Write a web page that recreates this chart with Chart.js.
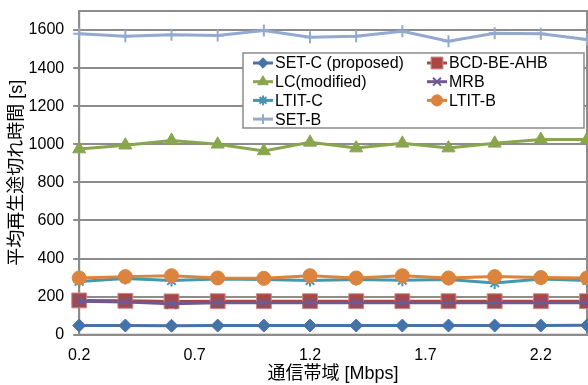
<!DOCTYPE html>
<html lang="ja">
<head>
<meta charset="utf-8">
<title>通信帯域と平均再生途切れ時間</title>
<script src="https://cdn.jsdelivr.net/npm/chart.js@4/dist/chart.umd.min.js"></script>
<style>
  html, body { margin: 0; padding: 0; background: #fff; }
  #wrap { width: 588px; height: 385px; }
</style>
</head>
<body>
<div id="wrap"><canvas id="playbackChart" width="588" height="385"></canvas></div>
<script>
// 帯域 [Mbps]
const bandwidth = [0.2, 0.4, 0.6, 0.8, 1.0, 1.2, 1.4, 1.6, 1.8, 2.0, 2.2, 2.4];
const xTickValues = [0.2, 0.7, 1.2, 1.7, 2.2];
const yTickValues = [0, 200, 400, 600, 800, 1000, 1200, 1400, 1600];

// 平均再生途切れ時間 [s]
const setC  = [48, 48, 47, 48, 48, 48, 48, 48, 48, 48, 48, 49];
const bcd   = [180, 178, 175, 176, 176, 176, 176, 176, 176, 176, 176, 176];
const lc    = [975, 995, 1020, 1000, 965, 1010, 980, 1005, 980, 1005, 1025, 1025];
const mrb   = [176, 172, 163, 168, 168, 168, 168, 168, 168, 168, 168, 168];
const ltitC = [280, 295, 284, 292, 290, 285, 290, 286, 290, 272, 292, 285];
const ltitB = [298, 305, 310, 298, 296, 310, 298, 310, 298, 305, 300, 298];
const setB  = [1580, 1567, 1575, 1571, 1597, 1562, 1567, 1594, 1541, 1583, 1580, 1550];

Chart.defaults.font.family = "'Liberation Sans', 'Noto Sans CJK JP', sans-serif";
Chart.defaults.color = '#000';

function serie(label, values, color, style, radius, border) {
    return {
        label: label,
        data: values.map((v, i) => ({ x: bandwidth[i], y: v })),
        borderColor: color,
        backgroundColor: color,
        pointBackgroundColor: color,
        pointBorderColor: border || color,
        pointBorderWidth: 1,
        pointStyle: style,
        pointRadius: radius,
        borderWidth: 3,
        tension: 0,
        clip: false
    };
}

const datasets = [
    serie('SET-C (proposed)', setC, '#4572A7', 'rectRot', 6.5),
    serie('BCD-BE-AHB', bcd, '#AA4643', 'rect', 10.5, '#C88A87'),
    serie('LC(modified)', lc, '#89A54E', 'triangle', 7.5),
    serie('MRB', mrb, '#71588F', 'crossRot', 7),
    serie('LTIT-C', ltitC, '#4198AF', 'star', 6),
    serie('LTIT-B', ltitB, '#DB843D', 'circle', 7),
    serie('SET-B', setB, '#93A9CF', 'cross', 6)
];
// 後の系列を上に描く
datasets.forEach((d, i) => { d.order = datasets.length - i; d.pointBorderWidth = d.pointStyle.indexOf('cross') === 0 || d.pointStyle === 'star' ? 2 : 1; });

// プロット枠
const frame = {
    id: 'frame',
    beforeDatasetsDraw(chart) {
        const a = chart.chartArea, ctx = chart.ctx;
        ctx.save();
        ctx.strokeStyle = '#8c8c8c';
        ctx.lineWidth = 2;
        ctx.strokeRect(a.left, a.top, a.right - a.left, a.bottom - a.top);
        ctx.restore();
    }
};

// 2列の凡例
const boxLegend = {
    id: 'boxLegend',
    afterDraw(chart) {
        const ctx = chart.ctx;
        ctx.save();
        ctx.fillStyle = '#fff';
        ctx.strokeStyle = '#8c8c8c';
        ctx.lineWidth = 1.5;
        ctx.fillRect(243, 53, 341, 75);
        ctx.strokeRect(243, 53, 341, 75);
        ctx.font = "16px 'Liberation Sans', sans-serif";
        ctx.textBaseline = 'middle';
        chart.data.datasets.forEach((d, i) => {
            const x = i % 2 === 0 ? 253 : 427;
            const y = 63 + Math.floor(i / 2) * 18.7;
            ctx.strokeStyle = d.borderColor;
            ctx.lineWidth = 3;
            ctx.beginPath();
            ctx.moveTo(x, y);
            ctx.lineTo(x + 20, y);
            ctx.stroke();
            ctx.fillStyle = d.pointBackgroundColor;
            ctx.strokeStyle = d.pointBorderColor;
            ctx.lineWidth = d.pointBorderWidth;
            Chart.helpers.drawPoint(ctx, {
                pointStyle: d.pointStyle,
                radius: d.pointRadius * 0.8,
                rotation: 0,
                borderWidth: d.pointBorderWidth
            }, x + 10, y);
            ctx.fillStyle = '#000';
            ctx.fillText(d.label, x + 22, y + 1);
        });
        ctx.restore();
    }
};

new Chart(document.getElementById('playbackChart'), {
    type: 'line',
    data: { datasets: datasets },
    options: {
        responsive: false,
        animation: false,
        layout: { autoPadding: false, padding: { left: 6, right: 1, top: 11, bottom: 0 } },
        plugins: {
            legend: { display: false },
            tooltip: { enabled: false }
        },
        scales: {
            x: {
                type: 'linear',
                min: 0.2,
                max: 2.4,
                afterBuildTicks: axis => { axis.ticks = xTickValues.map(v => ({ value: v })); },
                afterFit: axis => { axis.paddingLeft = 0; axis.paddingRight = 0; },
                ticks: {
                    font: { size: 16 },
                    padding: 11,
                    maxRotation: 0,
                    callback: v => String(v)
                },
                grid: { display: false, drawTicks: false },
                border: { display: true, color: '#8c8c8c', width: 2 },
                title: {
                    display: true,
                    text: '通信帯域 [Mbps]',
                    font: { size: 18 },
                    padding: { top: -12.5, bottom: 0 }
                }
            },
            y: {
                min: 0,
                max: 1700,
                afterBuildTicks: axis => { axis.ticks = yTickValues.map(v => ({ value: v })); },
                afterFit: axis => { axis.paddingTop = 0; axis.paddingBottom = 0; },
                ticks: { font: { size: 16 }, padding: 9, callback: v => String(v) },
                grid: { color: '#8c8c8c', lineWidth: 2, tickLength: 6 },
                border: { display: true, color: '#8c8c8c', width: 2 },
                title: {
                    display: true,
                    text: '平均再生途切れ時間 [s]',
                    font: { size: 18 },
                    padding: { top: 0, bottom: -8 }
                }
            }
        }
    },
    plugins: [frame, boxLegend]
});
</script>
</body>
</html>
